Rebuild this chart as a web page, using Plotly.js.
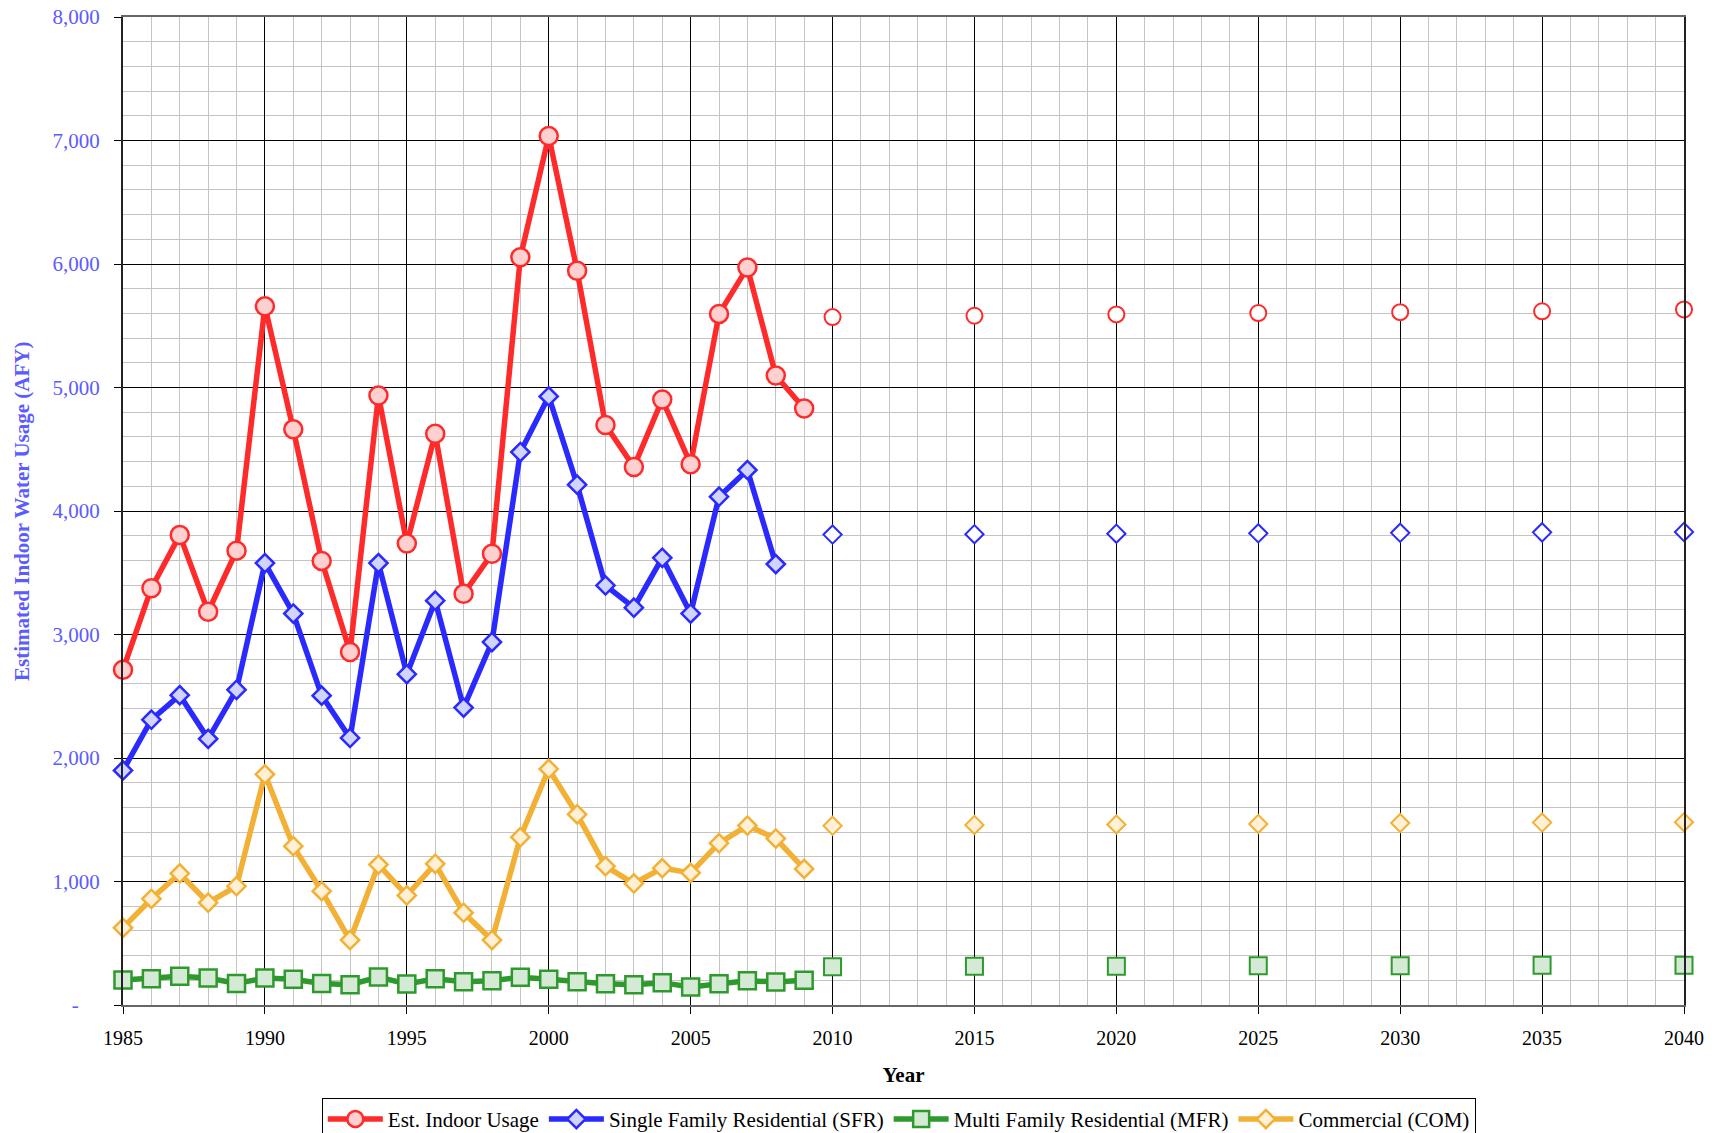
<!DOCTYPE html>
<html>
<head>
<meta charset="utf-8">
<script src="https://cdn.plot.ly/plotly-3.0.1.min.js"></script>
<style>
  body { margin: 0; background: #fff; }
  #chart { width: 1720px; height: 1133px; }
</style>
</head>
<body>
<div id="chart"></div>
<script>
// historic years 1985-2009, projections every 5 years
var histYears = [1985, 1986, 1987, 1988, 1989, 1990, 1991, 1992, 1993, 1994, 1995, 1996, 1997,
                 1998, 1999, 2000, 2001, 2002, 2003, 2004, 2005, 2006, 2007, 2008, 2009];
var projYears = [2010, 2015, 2020, 2025, 2030, 2035, 2040];

var indoorHist = [2715, 3375, 3805, 3184, 3679, 5657, 4661, 3596, 2859, 4935, 3736, 4625, 3329,
                  3653, 6054, 7036, 5946, 4697, 4357, 4903, 4379, 5596, 5971, 5097, 4830];
var sfrHist = [1899, 2310, 2509, 2155, 2552, 3578, 3170, 2505, 2162, 3578, 2679, 3274, 2408,
               2939, 4477, 4928, 4213, 3397, 3217, 3621, 3170, 4116, 4332, 3570, null];
var mfrHist = [202, 213, 232, 218, 175, 218, 208, 175, 164, 226, 170, 213, 189,
               197, 224, 208, 189, 172, 164, 181, 146, 172, 197, 186, 200];
var comHist = [625, 860, 1065, 828, 962, 1868, 1286, 922, 526, 1137, 887, 1143, 747,
               526, 1359, 1911, 1544, 1124, 984, 1108, 1070, 1310, 1453, 1348, 1102];

var indoorProj = [5570, 5581, 5592, 5603, 5610, 5617, 5632];
var sfrProj = [3809, 3812, 3816, 3819, 3823, 3827, 3830];
var mfrProj = [310, 314, 314, 318, 318, 321, 321];
var comProj = [1451, 1458, 1462, 1466, 1473, 1477, 1480];

var yTicks = [0, 1000, 2000, 3000, 4000, 5000, 6000, 7000, 8000];
var yTickText = ['-\u00a0\u00a0\u00a0\u00a0', '1,000', '2,000', '3,000', '4,000', '5,000', '6,000', '7,000', '8,000'];

var serif = 'Liberation Serif, Times New Roman, serif';

function hist(name, y, color, fill, symbol, size) {
    return {
        x: histYears, y: y, name: name, type: 'scatter', mode: 'lines+markers',
        cliponaxis: false, connectgaps: false,
        line: {color: color, width: 5.5},
        marker: {symbol: symbol, size: size, color: fill, line: {color: color, width: 2.5}}
    };
}

function proj(y, color, fill, symbol, size) {
    return {
        x: projYears, y: y, type: 'scatter', mode: 'markers', showlegend: false,
        cliponaxis: false,
        marker: {symbol: symbol, size: size, color: fill, line: {color: color, width: 2}}
    };
}

var data = [
    hist('Est. Indoor Usage', indoorHist, '#ff2a2a', '#ffd0d0', 'circle', 18),
    hist('Single Family Residential (SFR)', sfrHist, '#2a2aff', '#d0d4ff', 'diamond', 14),
    hist('Multi Family Residential (MFR)', mfrHist, '#2e9a2e', '#d5ead5', 'square', 17),
    hist('Commercial (COM)', comHist, '#f2b035', '#fff0d6', 'diamond', 14),
    proj(indoorProj, '#ff2a2a', '#ffffff', 'circle', 16),
    proj(sfrProj, '#2a2aff', '#ffffff', 'diamond', 14),
    proj(mfrProj, '#2e9a2e', '#d5ead5', 'square', 17),
    proj(comProj, '#f2b035', '#fff0d6', 'diamond', 14)
];

var layout = {
    width: 1720,
    height: 1133,
    margin: {l: 123, r: 36, t: 17, b: 128, autoexpand: false},
    paper_bgcolor: '#fff',
    plot_bgcolor: '#fff',
    font: {family: serif, size: 20, color: '#000'},
    showlegend: true,
    legend: {
        orientation: 'h', x: 0.497, xanchor: 'center', y: -0.094, yanchor: 'top',
        bordercolor: '#000', borderwidth: 1, bgcolor: '#fff',
        itemwidth: 55,
        font: {family: serif, size: 21, color: '#000'},
        traceorder: 'normal'
    },
    xaxis: {
        range: [1985, 2040],
        tick0: 1985, dtick: 5,
        showgrid: true, gridcolor: '#000', gridwidth: 1,
        minor: {dtick: 1, showgrid: true, gridcolor: '#c4c4c4', gridwidth: 1, ticks: ''},
        ticks: 'outside', ticklen: 7, tickcolor: '#000',
        ticklabelstandoff: 7,
        showline: true, linecolor: '#666', linewidth: 2, mirror: true,
        zeroline: false,
        tickfont: {family: serif, size: 20, color: '#000'},
        title: {text: '<b>Year</b>', font: {family: serif, size: 21, color: '#000'}, standoff: 19}
    },
    yaxis: {
        range: [0, 8000],
        tickvals: yTicks, ticktext: yTickText,
        showgrid: true, gridcolor: '#000', gridwidth: 1,
        minor: {dtick: 200, showgrid: true, gridcolor: '#c4c4c4', gridwidth: 1, ticks: ''},
        ticks: 'outside', ticklen: 7, tickcolor: '#000',
        ticklabelstandoff: 10,
        showline: true, linecolor: '#222', linewidth: 2, mirror: true,
        zeroline: false,
        tickfont: {family: serif, size: 21, color: '#5b5bff'}
    },
    // y title as an annotation so it can sit close to the page edge
    annotations: [{
        text: '<b>Estimated Indoor Water Usage (AFY)</b>',
        xref: 'paper', yref: 'paper', x: -0.0647, y: 0.5,
        xanchor: 'center', yanchor: 'middle', textangle: -90, showarrow: false,
        font: {family: serif, size: 21, color: '#5b5bff'}
    }]
};

Plotly.newPlot('chart', data, layout, {displayModeBar: false, staticPlot: true});
</script>
</body>
</html>
